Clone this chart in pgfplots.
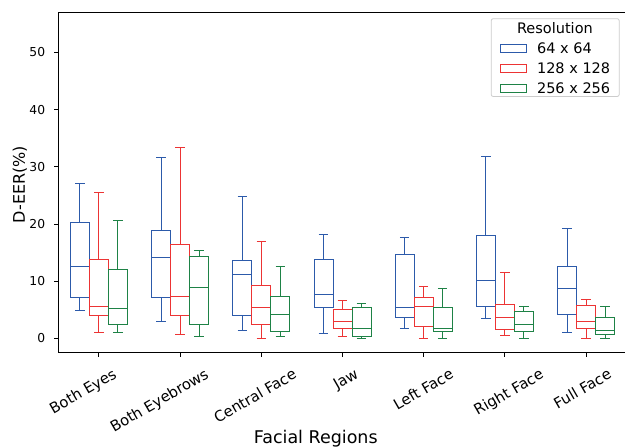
\documentclass[border=0pt]{standalone}
\usepackage{pgfplots}
\pgfplotsset{compat=1.18}
\usepgfplotslibrary{statistics}
\usepackage{fontspec}
\setmainfont{DejaVu Sans}
\definecolor{cb}{RGB}{44,90,170}
\definecolor{cr}{RGB}{236,52,52}
\definecolor{cg}{RGB}{30,130,70}
\newcommand{\bx}[7]{\addplot[#1, line width=0.85pt, solid, forget plot, boxplot prepared={draw position=#2, lower whisker=#3, lower quartile=#4, median=#5, upper quartile=#6, upper whisker=#7}] coordinates {};}
\begin{document}
\begin{tikzpicture}
\begin{axis}[
  scale only axis, width=568.3pt, height=340.4pt,
  xmin=-0.5, xmax=6.5, ymin=-2.5, ymax=57,
  boxplot/draw direction=y,
  boxplot/box extend=0.234, boxplot/whisker extend=0.117,
  xtick={0.161,1.295,2.378,3.142,4.312,5.421,6.258},
  xticklabels={Both Eyes,Both Eyebrows,Central Face,Jaw,Left Face,Right Face,Full Face},
  minor xtick={0,1,2,3,4,5,6},
  major x tick style={draw=none},
  minor x tick style={black, line width=0.8pt},
  minor tick length=4pt,
  xticklabel style={font=\fontsize{14.8}{17}\selectfont, inner sep=0pt, yshift=-10.7pt, rotate=30, anchor=north east},
  ytick={0,10,20,30,40,50},
  yticklabel style={font=\fontsize{12.3}{14}\selectfont, inner sep=0pt, anchor=east, xshift=-9pt},
  tick align=outside, xtick pos=bottom, ytick pos=left,
  major tick length=4pt,
  tick style={black, line width=0.8pt},
  axis line style={line width=0.8pt},
  /pgf/number format/assume math mode=true,
  ylabel={D-EER(\%)},
  every axis y label/.style={at={(axis description cs:0,0.5)}, xshift=-31pt, yshift=-2pt, rotate=90, anchor=south, inner sep=0pt, font=\fontsize{16}{19}\selectfont},
  xlabel={Facial Regions},
  every axis x label/.style={at={(axis description cs:0.5,0)}, xshift=-26.7pt, yshift=-90.8pt, anchor=base, inner sep=0pt, font=\fontsize{17.5}{20}\selectfont},
  legend image code/.code={\draw[#1, line width=0.85pt, fill=none, sharp corners] (0pt,-5pt) rectangle (26pt,3.6pt);},
  legend style={at={(1,1)}, anchor=north east, xshift=-7pt, yshift=-6pt,
    draw=black!20, line width=0.8pt, rounded corners=2pt, fill=white,
    font=\fontsize{14.5}{17}\selectfont,
    inner xsep=9pt, inner ysep=3.4pt, row sep=9pt, column sep=10pt,
    nodes={inner sep=0pt, text height=11pt, text depth=0pt},
    cells={anchor=west}},
]
\addlegendimage{empty legend}
\addlegendentry{\hspace*{-20pt}Resolution}
\addlegendimage{cb}
\addlegendentry{64 x 64}
\addlegendimage{cr}
\addlegendentry{128 x 128}
\addlegendimage{cg}
\addlegendentry{256 x 256}
% Both Eyes
\bx{cb}{-0.234}{4.9}{7.2}{12.6}{20.3}{27.15}
\bx{cr}{0}{1.05}{4.0}{5.6}{13.8}{25.5}
\bx{cg}{0.234}{1.05}{2.45}{5.3}{12.1}{20.6}
% Both Eyebrows
\bx{cb}{0.766}{3.0}{7.2}{14.2}{18.9}{31.6}
\bx{cr}{1}{0.75}{4.0}{7.4}{16.4}{33.3}
\bx{cg}{1.234}{0.35}{2.5}{8.9}{14.3}{15.4}
% Central Face
\bx{cb}{1.766}{1.33}{4.07}{11.2}{13.6}{24.9}
\bx{cr}{2}{0.05}{2.38}{5.35}{9.27}{16.96}
\bx{cg}{2.234}{0.28}{1.22}{4.13}{7.4}{12.64}
% Jaw
\bx{cb}{2.766}{0.8}{5.35}{7.74}{13.8}{18.2}
\bx{cr}{3}{0.28}{1.8}{2.9}{5.0}{6.64}
\bx{cg}{3.234}{0.05}{0.35}{1.8}{5.5}{6.1}
% Left Face
\bx{cb}{3.766}{1.8}{3.6}{5.4}{14.7}{17.7}
\bx{cr}{4}{0.05}{2.1}{5.6}{7.1}{9.0}
\bx{cg}{4.234}{0.05}{1.16}{1.75}{5.4}{8.8}
% Right Face
\bx{cb}{4.766}{3.55}{5.65}{10.1}{18.06}{31.8}
\bx{cr}{5}{0.58}{1.57}{3.6}{5.94}{11.5}
\bx{cg}{5.234}{0.05}{1.16}{2.45}{4.72}{5.6}
% Full Face
\bx{cb}{5.766}{1.05}{4.2}{8.7}{12.5}{19.3}
\bx{cr}{6}{0.05}{1.75}{2.9}{5.77}{6.75}
\bx{cg}{6.234}{0.05}{0.75}{1.4}{3.67}{5.6}
\end{axis}
\pgfresetboundingbox
\path ([shift={(-58.3pt,-95.3pt)}]current axis.south west) rectangle ([shift={(-1.6pt,12.3pt)}]current axis.north east);
\end{tikzpicture}
\end{document}
